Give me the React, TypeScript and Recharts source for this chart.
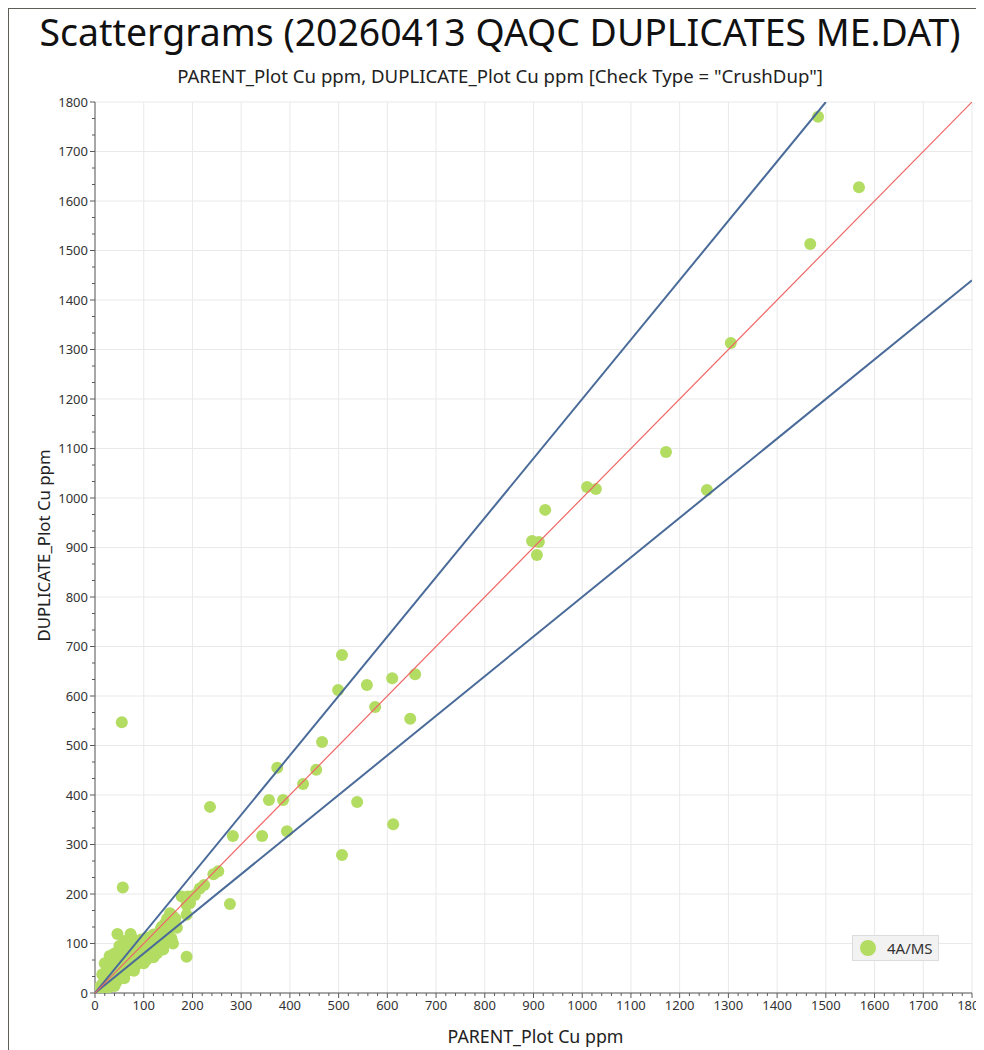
import React from 'react';
import { ScatterChart, Scatter, XAxis, YAxis, ReferenceLine, Legend, Label } from 'recharts';

// ---- DATA ----
const parentCu: number[] = [
  1484, 1568, 1468, 1305, 1172, 1256, 1010, 1028, 924, 897, 911, 907,
  507, 499, 558, 610, 657, 575, 647, 55,
  466, 374, 454, 427, 236, 357, 386, 538, 394, 343, 283, 612, 507,
  57, 277, 188,
  253, 243, 224, 215, 205, 191, 178, 195, 188, 188, 154, 144, 137,
  46, 73, 30,
  5, 10, 12, 15, 18, 20, 22, 25, 26, 28, 30, 32, 34, 35, 38, 40, 40, 42, 44, 45,
  47, 48, 50, 52, 54, 55, 56, 58, 60, 62, 63, 65, 66, 68, 70, 72, 74, 75, 76, 78,
  80, 82, 84, 85, 86, 88, 90, 92, 94, 95, 98, 100, 102, 104, 106, 108, 110, 112,
  115, 118, 120, 122, 125, 127, 130, 132, 135, 138, 140, 145, 148, 150, 152, 155,
  157, 160, 162, 165, 168, 106,
  20, 25, 30, 35, 40, 50, 60, 28, 15,
  40, 60, 80, 100, 120, 140, 160,
];
const duplicateCu: number[] = [
  1770, 1628, 1513, 1313, 1093, 1016, 1022, 1018, 976, 913, 911, 885,
  683, 612, 622, 636, 644, 578, 554, 547,
  507, 455, 451, 422, 376, 390, 390, 386, 327, 317, 317, 341, 279,
  213, 180, 73,
  246, 240, 218, 211, 198, 195, 195, 182, 178, 158, 161, 141, 134,
  119, 119, 75,
  4, 12, 6, 18, 10, 25, 15, 30, 20, 12, 35, 26, 42, 18, 48, 30, 58, 38, 22, 52,
  64, 40, 85, 56, 46, 70, 34, 90, 62, 52, 78, 44, 95, 70, 58, 86, 64, 112, 48, 80,
  98, 70, 56, 88, 105, 76, 94, 64, 85, 108, 78, 100, 90, 68, 112, 86, 98, 80,
  110, 92, 118, 104, 86, 80, 120, 108, 130, 98, 125, 132, 150, 118, 140, 105,
  110, 155, 145, 150, 132, 67,
  60, 50, 65, 72, 80, 95, 105, 45, 38,
  14, 30, 45, 60, 72, 88, 100,
];
const seriesName = '4A/MS';
const points = parentCu.map((p, i) => ({ parent: p, duplicate: duplicateCu[i] }));

// Reference lines (+20%, 1:1, -20%) as [parent, duplicate] end points
const upperLineParent = [0, 1500];
const upperLineDuplicate = [0, 1800];
const unityLineParent = [0, 1800];
const unityLineDuplicate = [0, 1800];
const lowerLineParent = [0, 1800];
const lowerLineDuplicate = [0, 1440];
const toLine = (xs: number[], ys: number[]) => xs.map((x, i) => ({ parent: x, duplicate: ys[i] }));

// Axis ticks
const xMajorTicks = [0, 100, 200, 300, 400, 500, 600, 700, 800, 900, 1000, 1100, 1200, 1300, 1400, 1500, 1600, 1700, 1800];
const yMajorTicks = [0, 100, 200, 300, 400, 500, 600, 700, 800, 900, 1000, 1100, 1200, 1300, 1400, 1500, 1600, 1700, 1800];
const xMinorPerMajor = 5;
const yMinorPerMajor = 3;

const titleText = 'Scattergrams (20260413 QAQC DUPLICATES ME.DAT)';
const subtitleText = 'PARENT_Plot Cu ppm, DUPLICATE_Plot Cu ppm [Check Type = "CrushDup"]';
const xAxisTitle = 'PARENT_Plot Cu ppm';
const yAxisTitle = 'DUPLICATE_Plot Cu ppm';

const withMinor = (majors: number[], n: number) => {
  const out: number[] = [];
  majors.forEach((m, i) => {
    out.push(m);
    if (i < majors.length - 1) {
      const step = (majors[i + 1] - m) / n;
      for (let k = 1; k < n; k++) out.push(m + step * k);
    }
  });
  return out;
};

const FONT = '"Noto Sans", "Open Sans", sans-serif';
const AXIS = '#5a5a5a';
const GRID = '#e9e9e9';
const DOT = '#b3dc63';
const BLUE = '#4a6b99';
const RED = '#f06666';

const XTick = (props: any) => {
  const { x, y, payload } = props;
  const v = payload.value;
  const major = xMajorTicks.some((m) => Math.abs(m - v) < 1e-6);
  return (
    <g>
      <line x1={x} x2={x} y1={y} y2={y + (major ? 5 : 3)} stroke={AXIS} strokeWidth={1} />
      {major && (
        <text x={x} y={y + 8} dy="0.71em" textAnchor="middle" fill="#333" fontSize={13} fontFamily={FONT}>
          {v}
        </text>
      )}
    </g>
  );
};

const YTick = (props: any) => {
  const { x, y, payload } = props;
  const v = payload.value;
  const major = yMajorTicks.some((m) => Math.abs(m - v) < 1e-6);
  return (
    <g>
      <line x1={x} x2={x - (major ? 5 : 3)} y1={y} y2={y} stroke={AXIS} strokeWidth={1} />
      {major && (
        <text x={x - 7} y={y} dy="0.35em" textAnchor="end" fill="#333" fontSize={13} fontFamily={FONT}>
          {v}
        </text>
      )}
    </g>
  );
};

const Dot = (props: any) => <circle cx={props.cx} cy={props.cy} r={6} fill={DOT} />;
const NoDot = () => <g />;

const LegendBox = (props: any) => {
  const items = (props.payload || []).filter((it: any) => it.value === seriesName);
  return (
    <div>
      {items.map((it: any) => (
        <div
          key={it.value}
          style={{
            display: 'flex',
            alignItems: 'center',
            width: 87,
            height: 26,
            boxSizing: 'border-box',
            background: '#f2f2f2',
            border: '1px solid #dcdcdc',
            fontFamily: FONT,
            fontSize: 15,
            color: '#333',
          }}
        >
          <span style={{ display: 'inline-block', width: 16, height: 16, borderRadius: 8, background: DOT, marginLeft: 7, marginRight: 11 }} />
          <span>{it.value}</span>
        </div>
      ))}
    </div>
  );
};

export default function App() {
  return (
    <div style={{ position: 'relative', width: 976, height: 1042, fontFamily: FONT }}>
      <style>{`body{overflow:hidden} .recharts-surface{overflow:visible}`}</style>
      <div
        style={{
          position: 'absolute',
          left: -2,
          top: -1,
          width: 1000,
          height: 1060,
          borderLeft: '3px solid #5e5e58',
          borderTop: '2px solid #5e5e58',
        }}
      />
      <div
        style={{
          position: 'absolute',
          left: 0,
          top: 5,
          width: 984,
          textAlign: 'center',
          fontSize: 37.4,
          lineHeight: '37px',
          color: '#111',
          whiteSpace: 'nowrap',
        }}
      >
        {titleText}
      </div>
      <div
        style={{
          position: 'absolute',
          left: 0,
          top: 58,
          width: 984,
          textAlign: 'center',
          fontSize: 18.6,
          lineHeight: '19px',
          color: '#222',
          whiteSpace: 'nowrap',
        }}
      >
        {subtitleText}
      </div>
      <div style={{ position: 'absolute', left: 0, top: 0 }}>
        <ScatterChart width={964} height={1040} margin={{ top: 94, right: 0, bottom: 25, left: 27 }}>
          {xMajorTicks.map((t) => (
            <ReferenceLine key={'gx' + t} x={t} stroke={GRID} strokeWidth={1} />
          ))}
          {yMajorTicks.map((t) => (
            <ReferenceLine key={'gy' + t} y={t} stroke={GRID} strokeWidth={1} />
          ))}
          <XAxis
            type="number"
            dataKey="parent"
            domain={[0, 1800]}
            ticks={withMinor(xMajorTicks, xMinorPerMajor)}
            interval={0}
            tickSize={0}
            tickMargin={0}
            tickLine={false}
            tick={<XTick />}
            axisLine={{ stroke: AXIS }}
            height={30}
            allowDataOverflow
          >
            <Label
              content={({ viewBox }: any) => (
                <text
                  x={viewBox.x + viewBox.width / 2 + 2}
                  y={viewBox.y + 43}
                  textAnchor="middle"
                  dominantBaseline="central"
                  fill="#222"
                  fontSize={17.8}
                  fontFamily={FONT}
                >
                  {xAxisTitle}
                </text>
              )}
            />
          </XAxis>
          <YAxis
            type="number"
            dataKey="duplicate"
            domain={[0, 1800]}
            ticks={withMinor(yMajorTicks, yMinorPerMajor)}
            interval={0}
            tickSize={0}
            tickMargin={0}
            tickLine={false}
            tick={<YTick />}
            axisLine={{ stroke: AXIS }}
            width={60}
            allowDataOverflow
          >
            <Label
              content={({ viewBox }: any) => {
                const cx = viewBox.x + 8;
                const cy = viewBox.y + viewBox.height / 2 - 2;
                return (
                  <text
                    x={cx}
                    y={cy}
                    transform={`rotate(-90 ${cx} ${cy})`}
                    textAnchor="middle"
                    dominantBaseline="central"
                    fill="#222"
                    fontSize={16.8}
                    fontFamily={FONT}
                  >
                    {yAxisTitle}
                  </text>
                );
              }}
            />
          </YAxis>
          <Scatter name={seriesName} data={points} fill={DOT} shape={<Dot />} isAnimationActive={false} />
          <Scatter
            name="upper"
            legendType="none"
            data={toLine(upperLineParent, upperLineDuplicate)}
            line={{ stroke: BLUE, strokeWidth: 2 }}
            shape={<NoDot />}
            isAnimationActive={false}
          />
          <Scatter
            name="lower"
            legendType="none"
            data={toLine(lowerLineParent, lowerLineDuplicate)}
            line={{ stroke: BLUE, strokeWidth: 2 }}
            shape={<NoDot />}
            isAnimationActive={false}
          />
          <Scatter
            name="unity"
            legendType="none"
            data={toLine(unityLineParent, unityLineDuplicate)}
            line={{ stroke: RED, strokeWidth: 1.2 }}
            shape={<NoDot />}
            isAnimationActive={false}
          />
          <Legend
            layout="vertical"
            align="center"
            verticalAlign="middle"
            content={<LegendBox />}
            wrapperStyle={{ position: 'absolute', left: 844, top: 927, right: 'auto', bottom: 'auto', width: 'auto', height: 'auto' }}
          />
        </ScatterChart>
      </div>
    </div>
  );
}
